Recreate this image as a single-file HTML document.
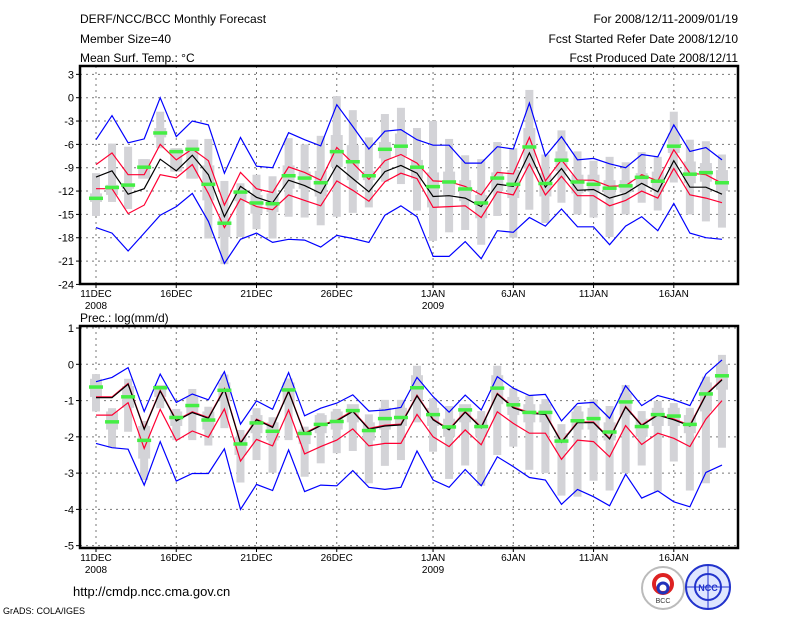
<!DOCTYPE html>
<html><head><meta charset="utf-8"><style>
html,body{margin:0;padding:0;background:#fff;}
svg{display:block;font-family:"Liberation Sans",sans-serif;}
</style></head><body>
<svg id="chart" width="800" height="618" viewBox="0 0 800 618" xmlns="http://www.w3.org/2000/svg">
<g font-size="12" fill="#000">
<text x="80" y="23">DERF/NCC/BCC Monthly Forecast</text>
<text x="80" y="43">Member Size=40</text>
<text x="80" y="62">Mean Surf. Temp.: °C</text>
<text x="738" y="23" text-anchor="end">For 2008/12/11-2009/01/19</text>
<text x="738" y="43" text-anchor="end">Fcst Started Refer Date 2008/12/10</text>
<text x="738" y="62" text-anchor="end">Fcst Produced Date 2008/12/11</text>
<text x="80" y="322">Prec.: log(mm/d)</text>
<text x="73" y="596" font-size="13">http://cmdp.ncc.cma.gov.cn</text>
<text x="3" y="614" font-size="9">GrADS: COLA/IGES</text>
</g>
<g>
<circle cx="663" cy="588" r="21" fill="#fff" stroke="#bbb" stroke-width="2"/>
<circle cx="663" cy="584" r="9" fill="none" stroke="#d22" stroke-width="4"/>
<circle cx="663" cy="588" r="5" fill="none" stroke="#23b" stroke-width="3"/>
<text x="663" y="603" font-size="7" text-anchor="middle" fill="#333">BCC</text>
</g>
<g>
<circle cx="708" cy="587" r="22" fill="#dfe6ff" stroke="#23c" stroke-width="2"/>
<circle cx="708" cy="587" r="13" fill="none" stroke="#23c" stroke-width="2"/>
<line x1="686" y1="587" x2="730" y2="587" stroke="#23c"/>
<line x1="708" y1="565" x2="708" y2="609" stroke="#23c"/>
<text x="708" y="591" font-size="9" font-weight="bold" text-anchor="middle" fill="#23c">NCC</text>
</g>
<g id="top"></g>
<g id="bot"></g>
</svg>
<script>
// ---- data: temperature (°C), days 0..39 from 11 Dec 2008 ----
const xTickLabels = ["11DEC","16DEC","21DEC","26DEC","1JAN","6JAN","11JAN","16JAN"];
const xTickDays = [0,5,10,15,21,26,31,36];
const tYTicks = [3,0,-3,-6,-9,-12,-15,-18,-21,-24];
const tBlueHi = [-5.4,-2.3,-5.8,-5.3,0,-5.0,-3.0,-3.5,-9.7,-5.1,-8.8,-9.0,-4.5,-5.4,-6.2,-0.9,-3.7,-6.6,-4.3,-4.1,-5.4,-6.1,-6.1,-8.4,-8.4,-6.3,-6.6,-0.7,-7.5,-5.0,-8.0,-7.8,-8.5,-9.0,-7.3,-7.6,-3.5,-6.9,-6.4,-8.0];
const tBlueLo = [-16.7,-17.4,-19.7,-17.4,-15.1,-14.0,-12.3,-15.9,-21.3,-18.2,-17.4,-18.6,-18.2,-18.3,-19.2,-17.7,-18.1,-18.6,-15.1,-13.9,-15.3,-20.4,-20.4,-18.5,-20.7,-17.1,-17.3,-15.4,-16.5,-14.3,-16.6,-16.6,-18.9,-16.5,-15.3,-17.1,-13.6,-17.4,-18.0,-18.2];
const tRedHi = [-8.6,-7.1,-9.9,-9.9,-6.0,-8.0,-6.6,-8.1,-13.8,-9.6,-11.7,-12.2,-8.9,-9.6,-10.6,-6.4,-8.4,-10.5,-8.1,-7.3,-8.4,-10.7,-10.8,-11.4,-12.5,-9.6,-9.8,-5.1,-10.7,-8.0,-10.6,-10.6,-11.4,-11.3,-9.9,-10.7,-6.7,-9.7,-9.9,-11.0];
const tRedLo = [-11.7,-11.7,-14.9,-13.8,-9.9,-10.3,-8.6,-12.3,-16.7,-13.0,-14.0,-14.4,-12.5,-13.2,-13.9,-10.7,-11.9,-13.3,-10.8,-9.7,-10.4,-14.1,-14.0,-13.9,-15.4,-12.1,-12.5,-8.5,-12.5,-10.1,-12.6,-12.6,-13.9,-13.2,-12.0,-12.9,-9.1,-12.5,-12.9,-13.5];
const tMean = [-10.2,-9.4,-12.4,-11.7,-7.9,-9.4,-7.4,-9.9,-15.3,-11.4,-12.8,-13.5,-10.6,-11.3,-12.3,-8.7,-10.4,-12.1,-9.5,-8.7,-9.7,-12.7,-12.6,-12.9,-14.0,-11.1,-11.4,-7.1,-11.5,-9.1,-11.9,-11.8,-12.9,-12.3,-11.0,-12.1,-8.1,-11.5,-11.5,-12.4];
const tGreen = [-12.9,-11.5,-11.2,-8.9,-4.5,-6.9,-6.6,-11.1,-16.1,-12.1,-13.5,-13.6,-10.0,-10.3,-10.9,-6.9,-8.2,-10.0,-6.6,-6.2,-8.9,-11.4,-10.8,-11.7,-13.5,-10.3,-11.1,-6.3,-11.0,-8.0,-10.8,-11.1,-11.6,-11.3,-10.2,-10.7,-6.2,-9.8,-9.6,-10.9];
const tRangeHi = [-9.7,-5.9,-6.3,-7.9,-1.8,-6.5,-5.4,-5.3,-10.7,-11.0,-9.9,-10.1,-5.2,-6.0,-4.9,0.2,-1.6,-5.1,-2.1,-1.3,-3.9,-3.0,-5.3,-7.4,-7.9,-5.7,-6.5,1.0,-7.3,-4.2,-6.9,-8.1,-7.6,-8.3,-7.0,-7.6,-1.8,-5.4,-5.6,-7.3];
const tRangeLo = [-15.2,-13.4,-14.3,-10.4,-6.5,-9.5,-10.4,-18.1,-21.4,-17.9,-16.9,-18.1,-15.3,-15.4,-16.4,-15.3,-14.8,-14.1,-10.8,-11.1,-14.5,-18.4,-17.3,-17.0,-18.9,-15.2,-18.0,-14.4,-16.1,-13.5,-15.0,-15.4,-17.9,-15.0,-13.5,-14.5,-10.9,-15.0,-15.9,-16.7];
const tBoxHi = [-12.3,-11.2,-11.0,-7.9,-3.9,-6.5,-5.4,-8.7,-15.5,-11.9,-12.5,-12.3,-8.7,-9.5,-9.4,-4.8,-6.1,-9.4,-5.7,-4.6,-8.0,-9.6,-9.5,-10.6,-12.5,-9.6,-9.3,-3.9,-9.7,-6.9,-9.9,-9.9,-10.6,-10.6,-9.7,-9.5,-4.6,-8.2,-8.4,-9.3];
const tBoxLo = [-13.4,-12.5,-11.7,-10.4,-5.1,-9.5,-10.4,-13.2,-17.9,-13.3,-14.9,-14.7,-11.7,-11.7,-12.7,-8.9,-10.6,-10.6,-7.8,-7.5,-10.4,-14.1,-12.5,-13.3,-15.5,-12.0,-12.9,-9.1,-12.7,-9.4,-12.3,-12.1,-12.7,-12.2,-11.4,-11.9,-7.1,-11.0,-10.8,-12.0];
// ---- data: precipitation log(mm/d) ----
const pYTicks = [1,0,-1,-2,-3,-4,-5];
const pBlueHi = [-0.48,-0.36,-0.09,-1.30,-0.27,-1.05,-0.82,-0.98,-0.20,-1.65,-1.01,-1.24,-0.23,-1.42,-1.21,-1.07,-0.84,-1.29,-1.26,-1.19,-0.36,-0.89,-1.32,-0.85,-1.26,-0.34,-0.66,-0.86,-0.83,-1.56,-1.08,-1.05,-1.49,-0.59,-1.14,-0.86,-0.98,-1.14,-0.27,0.12];
const pBlueLo = [-2.18,-2.30,-2.34,-3.33,-2.13,-3.22,-3.01,-3.01,-2.33,-4.0,-3.31,-3.48,-2.36,-3.51,-3.33,-3.35,-2.93,-3.39,-3.45,-3.39,-2.39,-3.19,-3.39,-2.90,-3.35,-2.55,-2.82,-3.12,-3.19,-3.86,-3.45,-3.65,-3.90,-3.03,-3.69,-3.49,-3.79,-3.93,-2.98,-2.78];
const pRedHi = [-0.90,-0.90,-0.53,-1.77,-0.72,-1.54,-1.31,-1.47,-0.67,-2.16,-1.51,-1.72,-0.73,-1.90,-1.67,-1.54,-1.28,-1.77,-1.68,-1.65,-0.85,-1.51,-1.79,-1.30,-1.73,-0.80,-1.18,-1.33,-1.36,-2.13,-1.59,-1.59,-2.04,-1.16,-1.67,-1.38,-1.51,-1.68,-0.83,-0.41];
const pRedLo = [-1.40,-1.40,-1.06,-2.32,-1.24,-2.10,-1.84,-2.01,-1.23,-2.67,-2.07,-2.25,-1.26,-2.47,-2.27,-2.09,-1.78,-2.25,-2.18,-2.18,-1.38,-2.0,-2.27,-1.81,-2.22,-1.31,-1.63,-1.90,-1.90,-2.62,-2.09,-2.13,-2.55,-1.69,-2.21,-1.90,-2.04,-2.27,-1.51,-1.0];
const pMean = [-0.92,-0.92,-0.55,-1.79,-0.74,-1.56,-1.33,-1.49,-0.69,-2.18,-1.53,-1.74,-0.75,-1.92,-1.69,-1.56,-1.30,-1.79,-1.70,-1.67,-0.87,-1.53,-1.81,-1.32,-1.75,-0.82,-1.20,-1.35,-1.38,-2.15,-1.61,-1.61,-2.06,-1.18,-1.69,-1.40,-1.53,-1.70,-0.85,-0.43];
const pGreen = [-0.62,-1.58,-0.89,-2.09,-0.64,-1.46,-1.13,-1.53,-0.71,-2.19,-1.61,-1.84,-0.70,-1.90,-1.65,-1.57,-1.27,-1.82,-1.49,-1.46,-0.64,-1.38,-1.72,-1.25,-1.71,-0.65,-1.11,-1.32,-1.32,-2.11,-1.55,-1.49,-1.86,-1.03,-1.71,-1.38,-1.42,-1.65,-0.81,-0.31];
const pRangeHi = [-0.27,-1.21,-0.40,-1.56,-0.57,-1.23,-0.68,-1.17,-0.28,-1.81,-1.21,-1.46,-0.39,-1.72,-1.35,-1.23,-1.12,-1.38,-0.98,-0.98,-0.04,-0.94,-1.15,-1.21,-1.29,-0.04,-0.66,-0.86,-0.96,-1.65,-1.15,-0.97,-1.15,-0.57,-1.29,-1.01,-1.07,-1.20,-0.34,0.26];
const pRangeLo = [-1.30,-2.30,-1.86,-3.19,-1.21,-2.09,-2.09,-2.24,-1.76,-3.26,-2.64,-2.99,-2.09,-3.10,-2.73,-2.45,-2.39,-3.28,-2.80,-2.64,-1.60,-2.41,-3.16,-2.79,-3.35,-2.50,-2.27,-2.91,-3.0,-3.62,-3.65,-3.21,-3.48,-3.0,-2.79,-3.51,-2.68,-3.48,-3.28,-2.30];
const pBoxHi = [-0.4,-1.3,-0.6,-1.7,-0.57,-1.3,-0.9,-1.3,-0.5,-2.0,-1.4,-1.6,-0.5,-1.8,-1.4,-1.3,-1.1,-1.6,-1.2,-1.2,-0.3,-1.2,-1.5,-1.1,-1.5,-0.3,-0.9,-1.1,-1.1,-1.9,-1.3,-1.2,-1.6,-0.8,-1.5,-1.2,-1.2,-1.4,-0.5,0.0];
const pBoxLo = [-0.9,-1.8,-1.2,-2.6,-0.9,-1.7,-1.4,-1.8,-1.0,-2.5,-1.9,-2.1,-1.1,-2.2,-1.9,-1.8,-1.6,-2.1,-1.8,-1.7,-1.0,-1.7,-2.0,-1.6,-2.0,-1.1,-1.4,-1.6,-1.6,-2.4,-1.8,-1.8,-2.1,-1.4,-2.0,-1.7,-1.7,-1.9,-1.3,-0.7];

const NS = "http://www.w3.org/2000/svg";
const xS = d => 96 + d * 16.05;
function mk(parent, tag, attrs) {
  const e = document.createElementNS(NS, tag);
  for (const k in attrs) e.setAttribute(k, attrs[k]);
  parent.appendChild(e);
  return e;
}
function panel(g, top, bottom, yS, yTicks, d, prefix) {
  const L = 80, R = 738;
  // grid
  yTicks.forEach(v => {
    const y = yS(v);
    const gl = mk(g, "line", {x1: L, x2: R, y1: y, y2: y, stroke: "#777", "stroke-dasharray": "2,4", "stroke-width": 1});
    
    
    const tk = mk(g, "line", {x1: L - 4, x2: L, y1: y, y2: y, stroke: "#000"});
    
    
    const t = mk(g, "text", {x: L - 6, y: y + 4, "text-anchor": "end", "font-size": 11});
    t.textContent = v;
    
    
  });
  xTickDays.forEach((dd, i) => {
    const x = xS(dd);
    const gl = mk(g, "line", {x1: x, x2: x, y1: top, y2: bottom, stroke: "#777", "stroke-dasharray": "2,4"});
    
    
    const tk = mk(g, "line", {x1: x, x2: x, y1: bottom, y2: bottom + 4, stroke: "#000"});
    
    
    const t = mk(g, "text", {x: x, y: bottom + 13, "text-anchor": "middle", "font-size": 10});
    t.textContent = xTickLabels[i];
    
    
  });
  [[0, "2008"], [21, "2009"]].forEach(([dd, s]) => {
    const t = mk(g, "text", {x: xS(dd), y: bottom + 25, "text-anchor": "middle", "font-size": 10});
    t.textContent = s;
    
    
  });
  // gray bars
  d.rHi.forEach((v, i) => {
    const x = xS(i);
    const r1 = mk(g, "rect", {x: x - 4, y: yS(v), width: 8, height: yS(d.rLo[i]) - yS(v), fill: "#d3d3d7"});
    
    
    const r2 = mk(g, "rect", {x: x - 6, y: yS(d.bHi[i]), width: 12, height: yS(d.bLo[i]) - yS(d.bHi[i]), fill: "#d3d3d7"});
    
    
  });
  const line = (arr, col, name) => {
    const p = mk(g, "polyline", {points: arr.map((v, i) => xS(i).toFixed(1) + "," + yS(v).toFixed(1)).join(" "), fill: "none", stroke: col, "stroke-width": 1.2});
    
    
  };
  line(d.blHi, "#0000ff", prefix + "-max-line");
  line(d.blLo, "#0000ff", prefix + "-min-line");
  line(d.reHi, "#ff0033", prefix + "-upper-spread-line");
  line(d.reLo, "#ff0033", prefix + "-lower-spread-line");
  line(d.mean, "#000", prefix + "-mean-line");
  d.green.forEach((v, i) => {
    const r = mk(g, "rect", {x: xS(i) - 7, y: yS(v) - 1.5, width: 14, height: 3.5, fill: "#44ee44"});
    
    
  });
  const f = mk(g, "rect", {x: L, y: top, width: R - L, height: bottom - top, fill: "none", stroke: "#000", "stroke-width": 2.5});
  
  
}
panel(document.getElementById("top"), 66, 284, v => 97.7 - v * 7.78, tYTicks,
  {rHi: tRangeHi, rLo: tRangeLo, bHi: tBoxHi, bLo: tBoxLo, blHi: tBlueHi, blLo: tBlueLo, reHi: tRedHi, reLo: tRedLo, mean: tMean, green: tGreen}, "temp");
panel(document.getElementById("bot"), 326, 548, v => 364.3 - v * 36.27, pYTicks,
  {rHi: pRangeHi, rLo: pRangeLo, bHi: pBoxHi, bLo: pBoxLo, blHi: pBlueHi, blLo: pBlueLo, reHi: pRedHi, reLo: pRedLo, mean: pMean, green: pGreen}, "prec");
</script>
</body></html>
